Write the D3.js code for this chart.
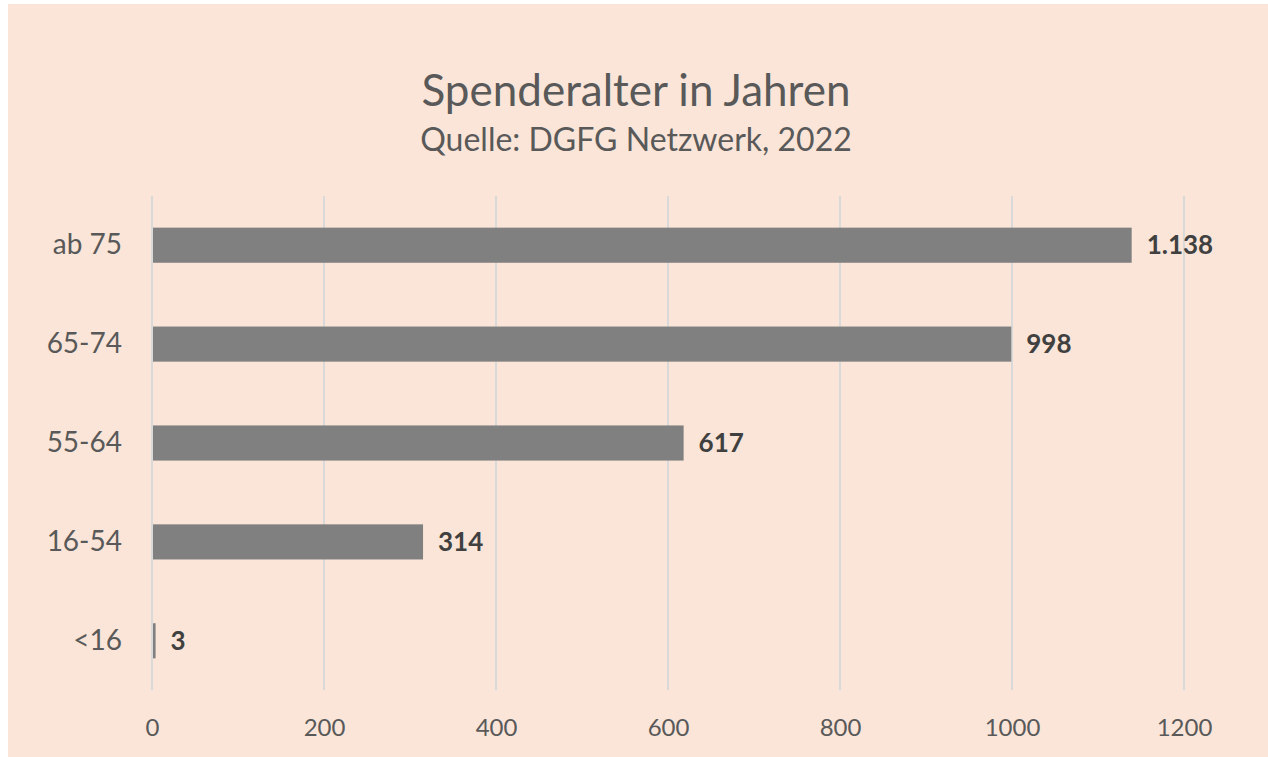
<!DOCTYPE html>
<html>
<head>
<meta charset="utf-8">
<script src="https://cdn.jsdelivr.net/npm/d3@7"></script>
<style>
  body { margin: 0; background: #ffffff; }
  svg { display: block; }
  text { font-family: Lato, "Open Sans", sans-serif; }
</style>
</head>
<body>
<div id="chart"></div>
<script>
// data
var categories = ["ab 75", "65-74", "55-64", "16-54", "<16"];
var values = [1138, 998, 617, 314, 3];
var valueLabels = ["1.138", "998", "617", "314", "3"];
var xTicks = [0, 200, 400, 600, 800, 1000, 1200];

var W = 1268, H = 757;
var margin = {top: 196, right: 84, bottom: 67, left: 152};
var width = W - margin.left - margin.right,
    height = H - margin.top - margin.bottom;

var svg = d3.select("#chart")
  .append("svg")
    .attr("width", W)
    .attr("height", H);

// background panel
svg.append("rect")
  .attr("x", 8).attr("y", 4)
  .attr("width", W - 8).attr("height", H - 4)
  .style("fill", "#FAE5D8");

// title
svg.append("text")
  .attr("x", 636).attr("y", 106)
  .attr("text-anchor", "middle")
  .style("font-size", "44px")
  .style("fill", "#595959")
  .text("Spenderalter in Jahren");
svg.append("text")
  .attr("x", 636).attr("y", 151)
  .attr("text-anchor", "middle")
  .style("font-size", "32px")
  .style("fill", "#595959")
  .text("Quelle: DGFG Netzwerk, 2022");

var g = svg.append("g")
  .attr("transform", "translate(" + margin.left + "," + margin.top + ")");

var x = d3.scaleLinear()
  .domain([0, 1200])
  .range([0, 1032]);
var y = d3.scaleBand()
  .domain(categories)
  .range([0, height])
  .paddingInner(0.645)
  .paddingOuter(0.32);

// gridlines
g.selectAll(".grid")
  .data(xTicks)
  .enter()
  .append("line")
    .attr("x1", function(d) { return x(d); })
    .attr("x2", function(d) { return x(d); })
    .attr("y1", 0)
    .attr("y2", height)
    .style("stroke", "#D9D9D9")
    .style("stroke-width", 2);

// x axis
var xAxis = g.append("g")
  .attr("transform", "translate(0," + height + ")")
  .call(d3.axisBottom(x).tickValues(xTicks).tickFormat(d3.format("d")).tickSize(0).tickPadding(29));
xAxis.select(".domain").remove();
xAxis.selectAll("text")
  .style("font-family", "Lato, 'Open Sans', sans-serif")
  .style("font-size", "24px")
  .style("fill", "#595959");

// y axis
var yAxis = g.append("g")
  .call(d3.axisLeft(y).tickSize(0).tickPadding(30));
yAxis.select(".domain").remove();
yAxis.selectAll("text")
  .style("font-family", "Lato, 'Open Sans', sans-serif")
  .style("font-size", "28px")
  .style("fill", "#595959");

// bars
g.selectAll(".bar")
  .data(values)
  .enter()
  .append("rect")
    .attr("x", x(0) + 1)
    .attr("y", function(d, i) { return y(categories[i]); })
    .attr("width", function(d) { return Math.max(x(d) - x(0), 1.5); })
    .attr("height", y.bandwidth())
    .style("fill", "#808080");

// value labels
g.selectAll(".lbl")
  .data(values)
  .enter()
  .append("text")
    .attr("x", function(d) { return x(d) + 16; })
    .attr("y", function(d, i) { return y(categories[i]) + y.bandwidth() / 2; })
    .attr("dy", "0.35em")
    .style("font-size", "26px")
    .style("font-weight", "bold")
    .style("fill", "#404040")
    .text(function(d, i) { return valueLabels[i]; });
</script>
</body>
</html>
